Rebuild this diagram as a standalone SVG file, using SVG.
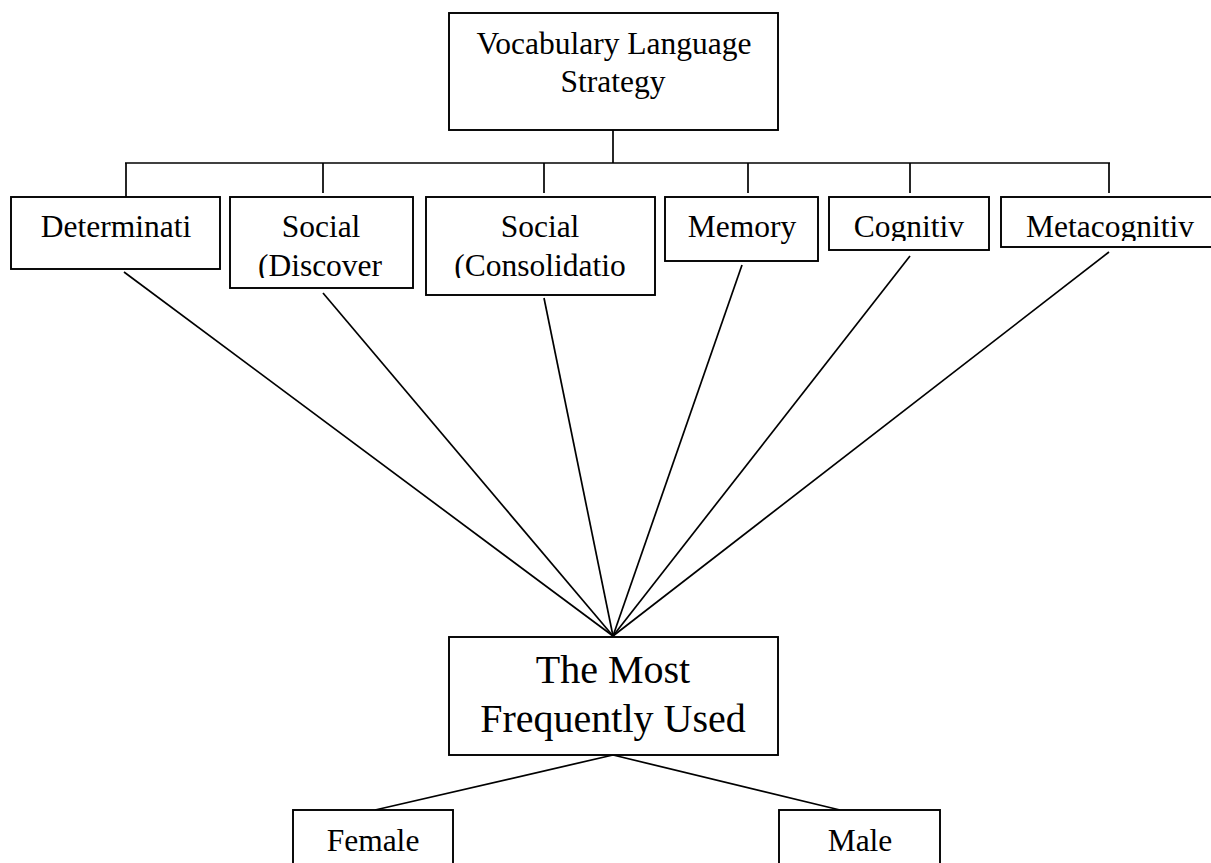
<svg xmlns="http://www.w3.org/2000/svg" width="1211" height="863" viewBox="0 0 1211 863">
<style>
.box{fill:#fff;stroke:#000;stroke-width:1.9}
.ln{stroke:#000;stroke-width:1.7;fill:none}
.t{font-family:"Liberation Serif","Times New Roman",serif;font-size:31.5px;fill:#000;text-anchor:middle}
.big{font-size:40px}
</style>
<defs>
<clipPath id="cDisc"><rect x="230" y="197" width="183" height="81"/></clipPath>
<clipPath id="cCons"><rect x="426" y="197" width="229" height="81"/></clipPath>
<clipPath id="cCog"><rect x="829" y="197" width="160" height="44"/></clipPath>
<clipPath id="cMeta"><rect x="1001" y="197" width="210" height="44"/></clipPath>
</defs>
<g id="connectors">
<line class="ln" x1="613" y1="130" x2="613" y2="163"/>
<line class="ln" x1="125" y1="163" x2="1110" y2="163"/>
<line class="ln" x1="126" y1="163" x2="126" y2="197"/>
<line class="ln" x1="323" y1="163" x2="323" y2="193"/>
<line class="ln" x1="544" y1="163" x2="544" y2="193"/>
<line class="ln" x1="748" y1="163" x2="748" y2="193"/>
<line class="ln" x1="910" y1="163" x2="910" y2="193"/>
<line class="ln" x1="1109" y1="163" x2="1109" y2="193"/>
<line class="ln" x1="124" y1="272" x2="613" y2="636"/>
<line class="ln" x1="323" y1="293" x2="613" y2="636"/>
<line class="ln" x1="544" y1="298" x2="613" y2="636"/>
<line class="ln" x1="742" y1="265" x2="613" y2="636"/>
<line class="ln" x1="910" y1="256" x2="613" y2="636"/>
<line class="ln" x1="1109" y1="252" x2="613" y2="636"/>
<line class="ln" x1="613" y1="755" x2="375" y2="810"/>
<line class="ln" x1="613" y1="755" x2="840" y2="810"/>
</g>
<g id="root">
<rect class="box" x="449" y="13" width="329" height="117"/>
<text class="t" x="614" y="54">Vocabulary Language</text>
<text class="t" x="613" y="92">Strategy</text>
</g>
<g id="determination">
<rect class="box" x="11" y="197" width="209" height="72"/>
<text class="t" x="116" y="237">Determinati</text>
</g>
<g id="social-discovery">
<rect class="box" x="230" y="197" width="183" height="91"/>
<g clip-path="url(#cDisc)">
<text class="t" x="321" y="237">Social</text>
<text class="t" x="320" y="276">(Discover</text>
</g>
</g>
<g id="social-consolidation">
<rect class="box" x="426" y="197" width="229" height="98"/>
<g clip-path="url(#cCons)">
<text class="t" x="540" y="237">Social</text>
<text class="t" x="540" y="276">(Consolidatio</text>
</g>
</g>
<g id="memory">
<rect class="box" x="665" y="197" width="153" height="64"/>
<text class="t" x="742" y="237">Memory</text>
</g>
<g id="cognitive">
<rect class="box" x="829" y="197" width="160" height="53"/>
<g clip-path="url(#cCog)"><text class="t" x="909" y="237">Cognitiv</text></g>
</g>
<g id="metacognitive">
<rect class="box" x="1001" y="197" width="218" height="50"/>
<g clip-path="url(#cMeta)"><text class="t" x="1110" y="237">Metacognitiv</text></g>
</g>
<g id="most-used">
<rect class="box" x="449" y="637" width="329" height="118"/>
<text class="t big" x="613" y="683">The Most</text>
<text class="t big" x="613" y="732">Frequently Used</text>
</g>
<g id="female">
<rect class="box" x="293" y="810" width="160" height="70"/>
<text class="t" x="373" y="851">Female</text>
</g>
<g id="male">
<rect class="box" x="779" y="810" width="161" height="70"/>
<text class="t" x="860" y="851">Male</text>
</g>
</svg>
